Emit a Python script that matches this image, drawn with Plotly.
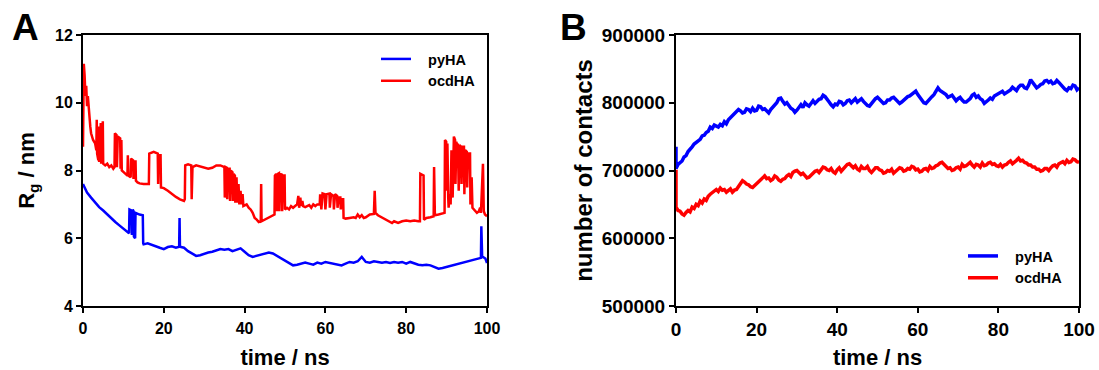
import plotly.graph_objects as go

# ---------------- Data ----------------
# Panel A: radius of gyration (nm) vs time (ns)
rg_pyha = [
    (0, 7.6), (1, 7.35), (2, 7.2), (3, 7.05), (4, 6.92), (5, 6.82), (6, 6.7), (7, 6.58), (8, 6.48),
    (9, 6.38), (10, 6.28), (10.8, 6.2), (11.4, 6.15), (11.5, 6.85), (12.0, 6.82), (12.1, 6.1),
    (12.3, 6.85), (12.5, 6.8), (12.6, 6.05), (12.9, 6.0), (13.0, 6.75), (14.0, 6.7), (14.8, 6.68),
    (14.9, 5.85), (15, 5.82), (16, 5.85), (17, 5.8), (18, 5.75), (19, 5.72), (20, 5.68), (21, 5.74),
    (22, 5.76), (23, 5.72), (23.8, 5.75), (23.9, 6.6), (24.0, 5.75), (25, 5.72), (26, 5.62),
    (27, 5.55), (28, 5.48), (29, 5.5), (30, 5.55), (31, 5.58), (32, 5.6), (33, 5.65), (34, 5.68),
    (35, 5.66), (36, 5.68), (37, 5.62), (38, 5.65), (39, 5.7), (40, 5.6), (41, 5.5), (42, 5.45),
    (43, 5.48), (44, 5.52), (45, 5.55), (46, 5.58), (47, 5.55), (48, 5.48), (49, 5.4), (50, 5.32),
    (51, 5.25), (52, 5.2), (53, 5.22), (54, 5.25), (55, 5.28), (56, 5.25), (57, 5.22), (58, 5.28),
    (59, 5.25), (60, 5.3), (61, 5.28), (62, 5.26), (63, 5.22), (64, 5.2), (65, 5.25), (66, 5.3),
    (67, 5.28), (68, 5.32), (69, 5.45), (70, 5.3), (71, 5.28), (72, 5.32), (73, 5.3), (74, 5.28),
    (75, 5.3), (76, 5.27), (77, 5.3), (78, 5.28), (79, 5.3), (80, 5.25), (81, 5.3), (82, 5.25),
    (83, 5.22), (84, 5.2), (85, 5.22), (86, 5.2), (87, 5.15), (88, 5.1), (89, 5.12), (90, 5.15),
    (91, 5.2), (92, 5.22), (93, 5.25), (94, 5.28), (95, 5.3), (96, 5.33), (97, 5.38), (98, 5.4),
    (98.5, 5.42), (98.6, 6.35), (98.8, 5.45), (99, 5.45), (99.6, 5.4), (100, 5.27),
]

rg_ocdha = [
    (0, 8.7), (0.1, 10.5), (0.2, 11.15), (0.4, 10.8), (0.6, 10.2), (0.8, 10.5), (1.0, 9.9),
    (1.2, 10.2), (1.5, 9.6), (1.8, 9.3), (2.0, 9.1), (2.5, 8.9), (3.0, 8.8), (3.3, 8.6),
    (3.4, 9.5), (3.5, 8.5), (3.8, 8.3), (3.9, 9.3), (4.0, 8.25), (4.4, 9.4), (4.5, 8.2),
    (4.9, 9.45), (5.0, 8.2), (5.5, 8.15), (6.0, 8.2), (6.5, 8.1), (7.0, 8.15), (7.5, 8.05),
    (7.8, 8.1), (7.9, 9.1), (8.3, 9.05), (8.4, 8.1), (8.6, 9.0), (9.2, 8.95), (9.3, 8.05),
    (9.5, 8.9), (9.6, 8.0), (10, 7.95), (10.5, 7.9), (11, 7.85), (11.1, 8.45), (11.2, 7.85),
    (11.8, 7.8), (11.9, 8.35), (12.4, 8.3), (12.5, 7.75), (13.0, 8.3), (13.1, 7.7), (13.5, 7.65),
    (14, 7.62), (15, 7.6), (16.3, 7.6), (16.4, 8.5), (17.5, 8.55), (18.5, 8.5), (18.6, 7.6),
    (18.7, 8.45), (19.2, 8.45), (19.3, 7.5), (20, 7.48), (21, 7.4), (22, 7.3), (23, 7.22),
    (24, 7.15), (25, 7.1), (25.2, 7.15), (25.3, 8.15), (26, 8.18), (26.8, 8.15), (26.9, 7.15),
    (27.1, 8.1), (28, 8.15), (29, 8.12), (30, 8.1), (31, 8.05), (32, 8.08), (33, 8.15), (34, 8.15),
    (35.0, 8.1), (35.1, 7.2), (35.3, 8.1), (35.6, 8.08), (35.7, 7.15), (35.9, 8.05), (36.3, 8.05),
    (36.4, 7.1), (36.6, 8.0), (37.0, 7.95), (37.1, 7.1), (37.3, 7.9), (37.6, 7.85), (37.7, 7.05),
    (38.0, 7.8), (38.2, 7.05), (38.5, 7.6), (38.7, 7.0), (39.0, 7.4), (39.2, 7.0), (39.5, 7.3),
    (39.7, 6.95), (40.5, 7.0), (41, 6.9), (41.5, 6.85), (42, 6.75), (42.5, 6.6), (43, 6.55),
    (43.5, 6.48), (44.0, 6.5), (44.1, 7.6), (44.2, 6.5), (45, 6.55), (46, 6.6), (47, 6.65),
    (47.4, 6.7), (47.5, 7.85), (47.8, 7.9), (48.0, 6.8), (48.2, 7.9), (48.5, 7.92), (48.6, 6.8),
    (48.8, 7.9), (49.2, 7.88), (49.3, 6.8), (49.5, 7.85), (49.9, 7.85), (50.0, 6.85), (50.5, 6.9),
    (51, 6.85), (51.5, 6.95), (52, 6.9), (52.5, 6.95), (53, 7.0), (53.3, 7.25), (53.5, 6.9),
    (53.8, 7.2), (54.0, 6.95), (54.3, 7.1), (54.5, 6.95), (55, 6.92), (56, 6.98), (56.5, 6.9),
    (57, 7.0), (57.5, 6.95), (58, 7.0), (58.6, 7.0), (58.7, 7.3), (59, 6.85), (59.3, 7.32),
    (59.8, 7.3), (60, 6.85), (60.3, 7.3), (61, 7.32), (61.1, 6.9), (61.4, 7.3), (62, 7.25),
    (62.1, 6.85), (62.4, 7.3), (62.9, 7.25), (63.0, 6.9), (63.3, 7.2), (63.7, 7.2), (63.8, 6.85),
    (64.1, 7.15), (64.4, 7.15), (64.5, 6.6), (65, 6.58), (66, 6.6), (67, 6.62), (67.5, 6.6),
    (68, 6.7), (68.5, 6.62), (69, 6.68), (69.5, 6.6), (70, 6.62), (71, 6.7), (72, 6.72),
    (72.2, 7.4), (72.4, 6.75), (73, 6.68), (74, 6.62), (75, 6.55), (76, 6.48), (76.5, 6.45),
    (77, 6.5), (78, 6.45), (79, 6.5), (80, 6.52), (81, 6.5), (82, 6.52), (83, 6.5), (83.4, 6.5),
    (83.5, 7.9), (84.3, 7.85), (84.4, 6.55), (85, 6.6), (86, 6.62), (86.8, 6.65), (86.9, 8.1),
    (87.1, 6.68), (88, 6.7), (89, 6.72), (89.5, 6.75), (89.6, 8.9), (89.9, 8.85), (90.0, 7.4),
    (90.2, 8.8), (90.4, 7.2), (90.5, 6.9), (90.8, 7.3), (91, 7.0), (91.2, 8.6), (91.5, 7.2),
    (91.8, 9.0), (92.1, 8.9), (92.2, 7.6), (92.4, 8.85), (92.6, 8.75), (92.8, 8.8), (93.0, 7.4),
    (93.2, 8.75), (93.6, 8.7), (93.7, 7.6), (93.9, 8.7), (94.3, 8.7), (94.4, 7.3), (94.6, 8.6),
    (95, 8.55), (95.1, 7.5), (95.3, 8.5), (95.8, 8.5), (95.9, 7.0), (96.2, 7.8), (96.4, 6.9),
    (97, 6.8), (97.5, 6.75), (98, 6.8), (98.3, 6.9), (98.5, 6.75), (98.7, 7.3), (99, 8.2),
    (99.2, 6.8), (99.5, 6.7), (100, 6.65),
]

# Panel B: number of contacts (thousands), sampled every 0.5 ns from 0 to 100 ns
contacts_time = [i * 0.5 for i in range(201)]
contacts_pyha_k = [
    703, 709, 712, 714, 720, 722, 728, 731, 735, 739,
    741, 743, 746, 751, 752, 756, 758, 764, 762, 767,
    766, 764, 768, 766, 772, 769, 775, 778, 780, 784,
    787, 790, 788, 785, 786, 791, 790, 787, 792, 788,
    789, 795, 794, 790, 791, 787, 785, 790, 793, 797,
    800, 806, 807, 802, 798, 800, 795, 792, 790, 786,
    789, 794, 797, 793, 800, 797, 795, 799, 803, 799,
    802, 805, 806, 811, 809, 804, 801, 797, 794, 798,
    797, 802, 801, 797, 799, 803, 804, 800, 803, 806,
    801, 803, 806, 802, 799, 796, 795, 799, 803, 806,
    808, 805, 803, 799, 800, 804, 804, 807, 808, 805,
    803, 799, 801, 804, 806, 809, 810, 812, 815, 817,
    812, 808, 803, 800, 799, 803, 806, 809, 812, 816,
    822, 818, 816, 813, 812, 808, 809, 811, 807, 803,
    806, 808, 804, 801, 801, 804, 806, 811, 813, 808,
    810, 806, 804, 799, 801, 804, 807, 805, 810, 812,
    813, 816, 817, 813, 815, 818, 819, 823, 821, 818,
    823, 826, 826, 822, 821, 826, 834, 830, 826, 822,
    824, 827, 828, 832, 833, 830, 832, 828, 829, 833,
    830, 826, 824, 820, 818, 822, 821, 826, 825, 819,
    822,
]
contacts_ocdha_k = [
    646, 641, 640, 636, 634, 638, 641, 639, 646, 644,
    650, 648, 655, 652, 658, 656, 662, 665, 667, 670,
    672, 669, 674, 671, 672, 668, 670, 673, 668, 671,
    672, 676, 679, 685, 683, 680, 679, 676, 675, 678,
    681, 684, 686, 690, 692, 688, 689, 685, 687, 692,
    690, 686, 684, 687, 688, 692, 694, 691, 697, 699,
    700, 697, 694, 696, 692, 689, 690, 694, 696, 699,
    700, 697, 702, 705, 704, 701, 700, 703, 698, 696,
    701, 704, 699, 702, 706, 709, 710, 706, 704, 707,
    702, 700, 706, 703, 703, 706, 700, 697, 701, 704,
    704, 701, 700, 696, 697, 700, 699, 702, 696, 699,
    701, 704, 703, 699, 700, 703, 702, 706, 705, 701,
    702, 698, 699, 702, 703, 700, 706, 703, 704, 707,
    708, 711, 712, 709, 707, 703, 704, 700, 701, 704,
    705, 702, 709, 706, 707, 710, 712, 708, 705, 709,
    708, 705, 711, 707, 708, 711, 712, 709, 710, 707,
    706, 709, 705, 708, 709, 712, 714, 710, 712, 715,
    718, 714, 715, 712, 711, 708, 708, 705, 705, 702,
    702, 699, 700, 703, 703, 700, 704, 707, 708, 705,
    710, 712, 713, 710, 715, 712, 713, 717, 716, 713,
    712,
]
contacts_start_k = {"pyHA": 735, "ocdHA": 701}  # values at the very first frame

series_names = ["pyHA", "ocdHA"]

# ---------------- Figure ----------------
W, H = 1099, 370
BLUE, RED = "#0000FF", "#FF0000"
FONT = "Liberation Sans, Arial, sans-serif"
GAP = "\u00a0\u00a0\u00a0"  # extra space between legend line and label


def fx(p):
    return p / W


def fy(p):
    return 1 - p / H


fig = go.Figure()

t_py, v_py = zip(*rg_pyha)
t_oc, v_oc = zip(*rg_ocdha)
fig.add_trace(go.Scatter(x=t_py, y=v_py, mode="lines", name=GAP + series_names[0],
                         line=dict(color=BLUE, width=2.5),
                         xaxis="x", yaxis="y", legend="legend", legendgroup="a1"))
fig.add_trace(go.Scatter(x=t_oc, y=v_oc, mode="lines", name=GAP + series_names[1],
                         line=dict(color=RED, width=2.5),
                         xaxis="x", yaxis="y", legend="legend", legendgroup="a2"))

bx = [0] + contacts_time
by_py = [contacts_start_k["pyHA"] * 1000] + [v * 1000 for v in contacts_pyha_k]
by_oc = [contacts_start_k["ocdHA"] * 1000] + [v * 1000 for v in contacts_ocdha_k]
fig.add_trace(go.Scatter(x=bx, y=by_py, mode="lines", name=GAP + series_names[0],
                         line=dict(color=BLUE, width=3.5),
                         xaxis="x2", yaxis="y2", legend="legend2", legendgroup="b1"))
fig.add_trace(go.Scatter(x=bx, y=by_oc, mode="lines", name=GAP + series_names[1],
                         line=dict(color=RED, width=3.5),
                         xaxis="x2", yaxis="y2", legend="legend2", legendgroup="b2"))

axis_common = dict(showline=True, linecolor="black", linewidth=2, mirror=True, ticks="outside",
                   ticklen=5, tickwidth=2, tickcolor="black", showgrid=False, zeroline=False,
                   automargin=False)

fig.update_layout(
    width=W, height=H, margin=dict(l=0, r=0, t=0, b=0, autoexpand=False),
    paper_bgcolor="white", plot_bgcolor="white",
    font=dict(family=FONT, color="black", weight="bold"),
    xaxis=dict(domain=[fx(83), fx(487)], range=[0, 100], dtick=20, anchor="y",
               tickfont=dict(size=16, family=FONT, weight="bold"), ticklabelstandoff=2,
               title=dict(text="time / ns", font=dict(size=22, family=FONT, weight="bold"), standoff=15),
               **axis_common),
    yaxis=dict(domain=[fy(306), fy(35)], range=[4, 12], dtick=2, anchor="x",
               tickfont=dict(size=16, family=FONT, weight="bold"),
               title=dict(text="R<sub>g</sub> / nm", font=dict(size=22, family=FONT, weight="bold"), standoff=14),
               **axis_common),
    xaxis2=dict(domain=[fx(676), fx(1079)], range=[0, 100], dtick=20, anchor="y2",
                tickfont=dict(size=19, family=FONT, weight="bold"),
                title=dict(text="time / ns", font=dict(size=22, family=FONT, weight="bold"), standoff=14),
                **axis_common),
    yaxis2=dict(domain=[fy(306), fy(35)], range=[500000, 900000], dtick=100000, tickformat="d",
                anchor="x2", tickfont=dict(size=19, family=FONT, weight="bold"),
                title=dict(text="number of contacts", font=dict(size=24, family=FONT, weight="bold"), standoff=2),
                **axis_common),
    legend=dict(x=fx(376), y=fy(43), xanchor="left", yanchor="top", bgcolor="rgba(0,0,0,0)",
                font=dict(size=14.5, family=FONT, weight="bold"), tracegroupgap=0),
    legend2=dict(x=fx(963), y=fy(240), xanchor="left", yanchor="top", bgcolor="rgba(0,0,0,0)",
                 font=dict(size=14.5, family=FONT, weight="bold"), tracegroupgap=0),
    showlegend=True,
    annotations=[
        dict(text="A", x=fx(25), y=fy(27), xref="paper", yref="paper", showarrow=False,
             xanchor="center", yanchor="middle", font=dict(size=37, family=FONT, weight="bold")),
        dict(text="B", x=fx(573), y=fy(27), xref="paper", yref="paper", showarrow=False,
             xanchor="center", yanchor="middle", font=dict(size=37, family=FONT, weight="bold")),
    ],
)

fig.write_html("out.html")
